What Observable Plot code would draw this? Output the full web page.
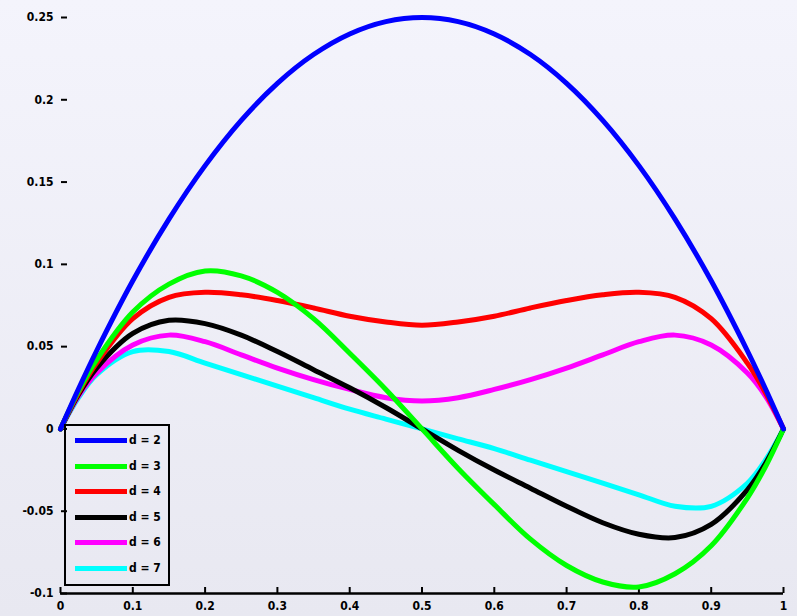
<!DOCTYPE html>
<html>
<head>
<meta charset="utf-8">
<script src="https://cdn.jsdelivr.net/npm/d3@7"></script>
<script src="https://cdn.jsdelivr.net/npm/@observablehq/plot@0.6"></script>
<style>
  html, body { margin: 0; padding: 0; }
  body { width: 797px; height: 616px; overflow: hidden; }
  #wrap {
    position: relative; width: 797px; height: 616px;
    background: linear-gradient(#f4f4fc, #e8e8f1);
    font-family: "DejaVu Sans Condensed", "DejaVu Sans", sans-serif;
  }
  #wrap svg { position: absolute; left: 0; top: 0; background: transparent; }
  #legend {
    position: absolute; left: 64px; top: 424px; width: 102px; height: 158px;
    border: 2.5px solid #000; box-sizing: content-box;
  }
  .item { position: absolute; left: 0; height: 14px; width: 100px; }
  .item .sw { position: absolute; left: 9px; top: 5px; width: 52px; height: 5px; }
  .item .lb { position: absolute; left: 63px; top: 0px; font-weight: bold; font-size: 12px; color: #000; line-height: 14px; }
</style>
</head>
<body>
<div id="wrap"><div id="legend"></div></div>
<script>
const xs = [0, 0.025, 0.05, 0.1, 0.15, 0.2, 0.25, 0.3, 0.35, 0.4, 0.45, 0.5, 0.55, 0.6, 0.65, 0.7, 0.75, 0.8, 0.85, 0.9, 0.95, 0.975, 1];
const d2 = [0, 0.0244, 0.0475, 0.09, 0.1275, 0.16, 0.1875, 0.21, 0.2275, 0.24, 0.2475, 0.25, 0.2475, 0.24, 0.2275, 0.21, 0.1875, 0.16, 0.1275, 0.09, 0.0475, 0.0244, 0];
const d3 = [0, 0.023, 0.042, 0.071, 0.088, 0.096, 0.093, 0.083, 0.067, 0.046, 0.024, 0, -0.024, -0.046, -0.067, -0.083, -0.093, -0.096, -0.088, -0.071, -0.042, -0.023, 0];
const d4 = [0, 0.022, 0.040, 0.067, 0.080, 0.083, 0.0815, 0.078, 0.0735, 0.0685, 0.065, 0.063, 0.065, 0.0685, 0.0735, 0.078, 0.0815, 0.083, 0.080, 0.067, 0.040, 0.022, 0];
const d5 = [0, 0.021, 0.037, 0.058, 0.066, 0.064, 0.057, 0.047, 0.036, 0.025, 0.013, 0, -0.013, -0.025, -0.036, -0.047, -0.057, -0.064, -0.066, -0.058, -0.037, -0.021, 0];
const d6 = [0, 0.020, 0.034, 0.051, 0.057, 0.053, 0.045, 0.037, 0.030, 0.024, 0.019, 0.017, 0.019, 0.024, 0.030, 0.037, 0.045, 0.053, 0.057, 0.051, 0.034, 0.020, 0];
const d7 = [0, 0.019, 0.033, 0.047, 0.047, 0.040, 0.033, 0.026, 0.019, 0.012, 0.006, 0, -0.006, -0.012, -0.019, -0.026, -0.033, -0.040, -0.047, -0.047, -0.033, -0.019, 0];

const seriesNames = ["d = 2", "d = 3", "d = 4", "d = 5", "d = 6", "d = 7"];
const seriesValues = [d2, d3, d4, d5, d6, d7];
const seriesColors = ["#0000ff", "#00ff00", "#ff0000", "#000000", "#ff00ff", "#00ffff"];
const xTicks = [0, 0.1, 0.2, 0.3, 0.4, 0.5, 0.6, 0.7, 0.8, 0.9, 1];
const xTickLabels = ["0", "0.1", "0.2", "0.3", "0.4", "0.5", "0.6", "0.7", "0.8", "0.9", "1"];
const yTicks = [-0.1, -0.05, 0, 0.05, 0.1, 0.15, 0.2, 0.25];
const yTickLabels = ["-0.1", "-0.05", "0", "0.05", "0.1", "0.15", "0.2", "0.25"];

// draw d=7 first so d=2 ends on top
const rows = [];
for (let s = seriesNames.length - 1; s >= 0; s--) {
  xs.forEach((x, i) => rows.push({series: seriesNames[s], x, y: seriesValues[s][i]}));
}

const chart = Plot.plot({
  width: 797,
  height: 616,
  marginLeft: 60,
  marginRight: 14,
  marginTop: 17,
  marginBottom: 23,
  style: {background: "transparent", fontFamily: "'DejaVu Sans Condensed', 'DejaVu Sans', sans-serif", fontSize: "12px", fontWeight: "bold", color: "#000"},
  x: {domain: [0, 1]},
  y: {domain: [-0.1, 0.25]},
  color: {domain: seriesNames, range: seriesColors},
  marks: [
    Plot.ruleY([-0.1], {stroke: "#000", strokeWidth: 2.5}),
    Plot.axisX({ticks: xTicks, tickFormat: (d, i) => xTickLabels[i], tickSize: 6, dy: -6, tickPadding: 8, strokeWidth: 2, label: null, fill: "#000"}),
    Plot.axisY({ticks: yTicks, tickFormat: (d, i) => yTickLabels[i], tickSize: 6, dx: 7, tickPadding: 8, strokeWidth: 2, label: null, fill: "#000"}),
    Plot.line(rows, {x: "x", y: "y", z: "series", stroke: "series", strokeWidth: 5, curve: "catmull-rom"})
  ]
});
document.getElementById("wrap").prepend(chart);

const legend = document.getElementById("legend");
seriesNames.forEach((name, i) => {
  const it = document.createElement("div");
  it.className = "item";
  it.style.top = (7 + i * 25.6) + "px";
  it.innerHTML = `<div class="sw" style="background:${seriesColors[i]}"></div><div class="lb">${name}</div>`;
  legend.appendChild(it);
});
</script>
</body>
</html>
